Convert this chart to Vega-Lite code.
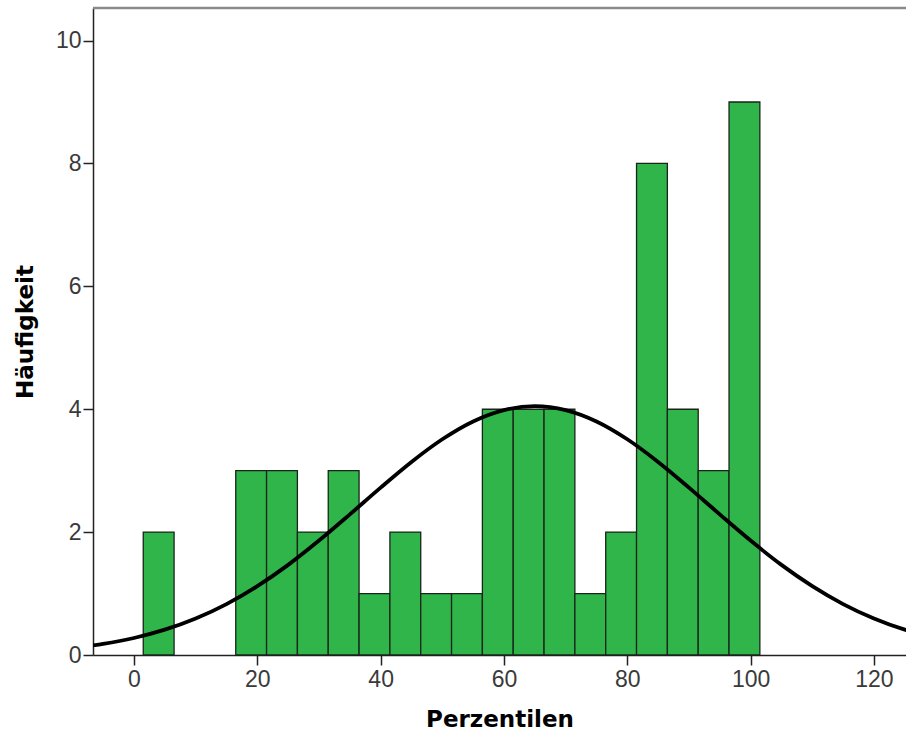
{
  "$schema": "https://vega.github.io/schema/vega-lite/v6.json",
  "width": 813,
  "height": 647,
  "autosize": {"type": "none"},
  "padding": {"left": 93, "top": 8, "right": 0, "bottom": 78},
  "background": "white",
  "config": {
    "view": {"stroke": null},
    "font": "Liberation Sans",
    "axis": {
      "grid": false,
      "domainColor": "#222222",
      "domainWidth": 1.5,
      "tickColor": "#222222",
      "tickWidth": 1.5,
      "tickSize": 10,
      "labelFont": "Liberation Sans",
      "labelFontSize": 23,
      "labelColor": "#3a3a3a",
      "titleFont": "DejaVu Sans",
      "titleFontSize": 23,
      "titleFontWeight": "bold",
      "titleColor": "#000000"
    }
  },
  "datasets": {
    "bins": [
      {"bin_start": 1.5, "bin_end": 6.5, "count": 2},
      {"bin_start": 16.5, "bin_end": 21.5, "count": 3},
      {"bin_start": 21.5, "bin_end": 26.5, "count": 3},
      {"bin_start": 26.5, "bin_end": 31.5, "count": 2},
      {"bin_start": 31.5, "bin_end": 36.5, "count": 3},
      {"bin_start": 36.5, "bin_end": 41.5, "count": 1},
      {"bin_start": 41.5, "bin_end": 46.5, "count": 2},
      {"bin_start": 46.5, "bin_end": 51.5, "count": 1},
      {"bin_start": 51.5, "bin_end": 56.5, "count": 1},
      {"bin_start": 56.5, "bin_end": 61.5, "count": 4},
      {"bin_start": 61.5, "bin_end": 66.5, "count": 4},
      {"bin_start": 66.5, "bin_end": 71.5, "count": 4},
      {"bin_start": 71.5, "bin_end": 76.5, "count": 1},
      {"bin_start": 76.5, "bin_end": 81.5, "count": 2},
      {"bin_start": 81.5, "bin_end": 86.5, "count": 8},
      {"bin_start": 86.5, "bin_end": 91.5, "count": 4},
      {"bin_start": 91.5, "bin_end": 96.5, "count": 3},
      {"bin_start": 96.5, "bin_end": 101.5, "count": 9}
    ],
    "normal_curve": [
      {"x": -7, "y": 0.151},
      {"x": -5, "y": 0.181},
      {"x": 0, "y": 0.277},
      {"x": 5, "y": 0.412},
      {"x": 10, "y": 0.594},
      {"x": 15, "y": 0.829},
      {"x": 20, "y": 1.121},
      {"x": 25, "y": 1.467},
      {"x": 30, "y": 1.862},
      {"x": 35, "y": 2.288},
      {"x": 40, "y": 2.724},
      {"x": 45, "y": 3.142},
      {"x": 50, "y": 3.511},
      {"x": 55, "y": 3.801},
      {"x": 60, "y": 3.986},
      {"x": 65, "y": 4.05},
      {"x": 70, "y": 3.986},
      {"x": 75, "y": 3.801},
      {"x": 80, "y": 3.511},
      {"x": 85, "y": 3.142},
      {"x": 90, "y": 2.724},
      {"x": 95, "y": 2.288},
      {"x": 100, "y": 1.862},
      {"x": 105, "y": 1.467},
      {"x": 110, "y": 1.121},
      {"x": 115, "y": 0.829},
      {"x": 120, "y": 0.594},
      {"x": 125, "y": 0.412},
      {"x": 127, "y": 0.355}
    ]
  },
  "layer": [
    {
      "data": {"name": "bins"},
      "mark": {"type": "bar", "fill": "#2fb54a", "stroke": "#1a241a", "strokeWidth": 1.3},
      "encoding": {
        "x": {
          "field": "bin_start",
          "type": "quantitative",
          "scale": {"domain": [-6.65, 125.2], "nice": false, "zero": false},
          "axis": {"title": "Perzentilen", "values": [0, 20, 40, 60, 80, 100, 120], "format": "d", "labelPadding": 3, "titlePadding": 17}
        },
        "x2": {"field": "bin_end"},
        "y": {
          "field": "count",
          "type": "quantitative",
          "scale": {"domain": [0, 10.53], "nice": false},
          "axis": {"title": "Häufigkeit", "values": [0, 2, 4, 6, 8, 10], "format": "d", "labelPadding": 2, "titlePadding": 18}
        },
        "y2": {"datum": 0}
      }
    },
    {
      "data": {"name": "normal_curve"},
      "mark": {"type": "line", "color": "#000000", "strokeWidth": 3.8, "interpolate": "monotone", "clip": true},
      "encoding": {
        "x": {"field": "x", "type": "quantitative"},
        "y": {"field": "y", "type": "quantitative"}
      }
    },
    {
      "data": {"values": [{}]},
      "mark": {"type": "rule", "color": "#8a8a8a", "strokeWidth": 2.5},
      "encoding": {
        "x": {"datum": -6.65},
        "x2": {"datum": 125.2},
        "y": {"datum": 10.53}
      }
    }
  ]
}
